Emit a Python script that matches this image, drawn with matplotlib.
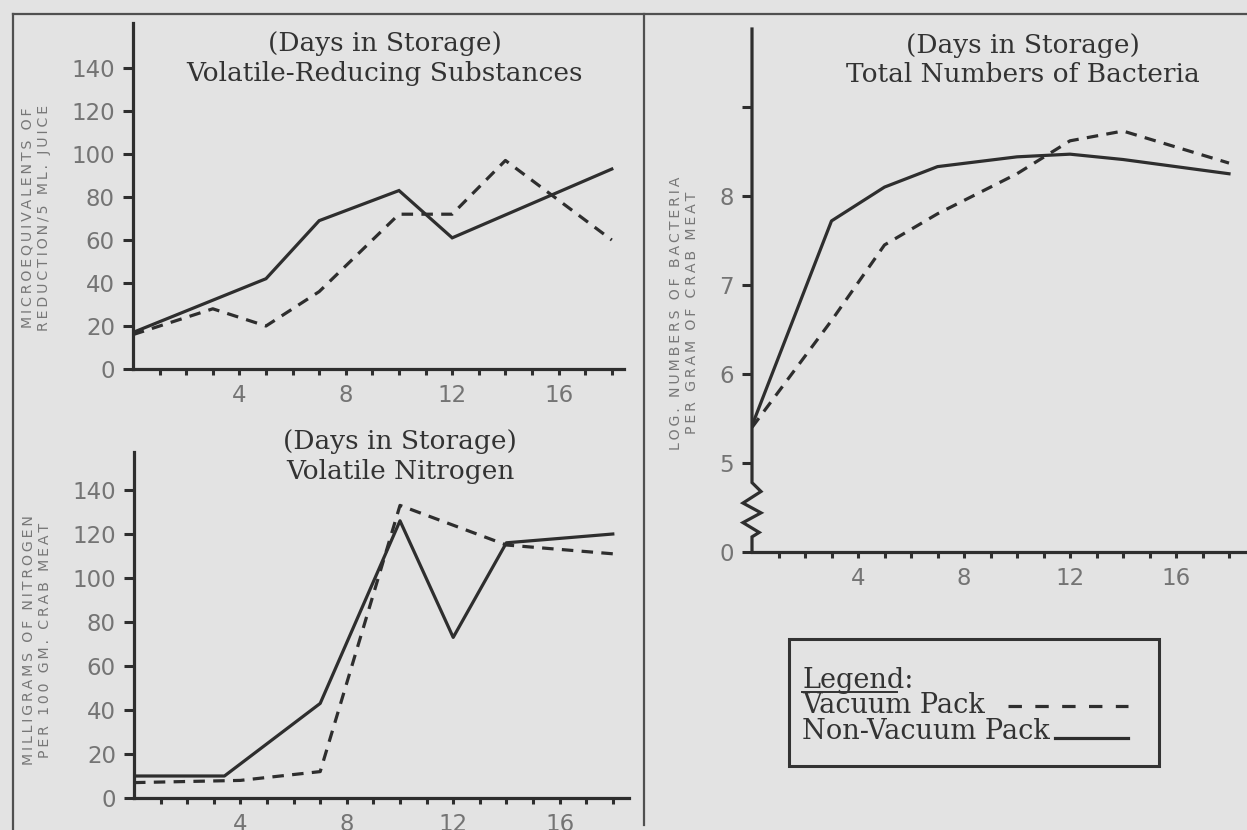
import numpy as np
import matplotlib.pyplot as plt
from matplotlib.patches import Rectangle
from matplotlib.lines import Line2D

W, H = 1247, 830
BG = '#e3e3e3'
INK = '#2e2e2e'
SOFT = '#747474'

# volatile-reducing substances (microequivalents / 5 ml juice)
vrs_days_vac = [0, 3, 5, 7, 10, 12, 14, 18]
vrs_vac = [16, 28, 20, 36, 72, 72, 97, 60]
vrs_days_non = [0, 5, 7, 10, 12, 18]
vrs_non = [17, 42, 69, 83, 61, 93]

# volatile nitrogen (mg / 100 gm crab meat)
vn_days_vac = [0, 4, 7, 10, 14, 18]
vn_vac = [7, 8, 12, 133, 115, 111]
vn_days_non = [0, 3.4, 7, 10, 12, 14, 18]
vn_non = [10, 10, 43, 126, 73, 116, 120]

# total bacteria (log numbers per gram)
bact_days = [0, 3, 5, 7, 10, 12, 14, 18]
bact_vac = [5.4, 6.6, 7.45, 7.8, 8.25, 8.62, 8.73, 8.37]
bact_non = [5.42, 7.72, 8.1, 8.33, 8.44, 8.47, 8.41, 8.25]

day_ticks = np.arange(1, 19)
day_labels = [str(d) if d % 4 == 0 else '' for d in day_ticks]

LW = 2.3
DASH = (0, (3.6, 2.6))

fig = plt.figure(figsize=(W / 100, H / 100), dpi=100, facecolor=BG)


def px_axes(left, right, top, bottom):
    ax = fig.add_axes([left / W, 1 - bottom / H, (right - left) / W, (bottom - top) / H])
    ax.set_facecolor('none')
    for s in ['top', 'right']:
        ax.spines[s].set_visible(False)
    for s in ['left', 'bottom']:
        ax.spines[s].set_linewidth(2.3)
        ax.spines[s].set_color(INK)
    ax.set_xticks(day_ticks)
    ax.set_xticklabels(day_labels)
    ax.tick_params(axis='x', direction='out', length=4, width=2.2, color=INK,
                   pad=7, labelsize=16.5, labelcolor=SOFT)
    ax.tick_params(axis='y', direction='out', length=7, width=2.2, color=INK,
                   pad=6, labelsize=16.5, labelcolor=SOFT)
    return ax


def spaced(s):
    return '\u2009'.join(s)


def ylab(x, y, lines):
    for i, line in enumerate(lines):
        fig.text(x + i * 16, H - y, spaced(line), transform=None, rotation=90,
                 ha='center', va='center', fontsize=10.2, color='#777777',
                 family='DejaVu Sans')


def title(xc, y1, lines, size=19):
    for i, line in enumerate(lines):
        fig.text(xc / W, 1 - (y1 + i * 30) / H, line, ha='center', va='center',
                 fontsize=size, color='#333333', family='DejaVu Serif')


# frame lines of the scanned page
frame = dict(color='#505050', lw=1.6, transform=None)
fig.add_artist(Line2D([12.5, W], [H - 14, H - 14], **frame))
fig.add_artist(Line2D([12.5, 12.5], [H - 14, 0], **frame))
fig.add_artist(Line2D([644, 644], [H - 14, H - 825], **frame))

# top left
ax1 = px_axes(133, 624, 23, 369)
ax1.set_xlim(0, (624 - 133) / 26.6)
ax1.set_ylim(0, (369 - 23) / 2.15)
ax1.set_yticks(np.arange(0, 141, 20))
ax1.plot(vrs_days_non, vrs_non, color=INK, lw=LW, solid_joinstyle='miter')
ax1.plot(vrs_days_vac, vrs_vac, color=INK, lw=LW, ls=DASH)
title(385, 43, ['(Days in Storage)', 'Volatile-Reducing Substances'])
ylab(28, 218, ['MICROEQUIVALENTS OF', 'REDUCTION/5 ML. JUICE'])

# bottom left
ax2 = px_axes(134, 629, 452, 798)
ax2.set_xlim(0, (629 - 134) / 26.6)
ax2.set_ylim(0, (798 - 452) / 2.2)
ax2.set_yticks(np.arange(0, 141, 20))
ax2.plot(vn_days_non, vn_non, color=INK, lw=LW)
ax2.plot(vn_days_vac, vn_vac, color=INK, lw=LW, ls=DASH)
title(400, 441, ['(Days in Storage)', 'Volatile Nitrogen'])
ylab(29, 640, ['MILLIGRAMS OF NITROGEN', 'PER 100 GM. CRAB MEAT'])

# right
ax3 = px_axes(752, 1247, 29, 552)
ax3.set_xlim(0, (1247 - 752) / 26.5)
ax3.set_ylim(4, 4 + (552 - 29) / 89)
ax3.set_yticks([4, 5, 6, 7, 8, 9])
ax3.set_yticklabels(['0', '5', '6', '7', '8', ''])
ax3.spines['left'].set_visible(False)
ax3.plot(bact_days, bact_non, color=INK, lw=LW)
ax3.plot(bact_days, bact_vac, color=INK, lw=LW, ls=DASH)
# broken axis with zigzag
amp = 9 / 26.5
zz_y = np.array([4.78, 4.68, 4.55, 4.44, 4.33, 4.22, 4.17])
zz_x = np.array([0, amp, -amp, amp, -amp, amp * 0.8, 0])
ax3.plot(np.r_[0, zz_x, 0], np.r_[ax3.get_ylim()[1], zz_y, 4],
         color=INK, lw=2.3, clip_on=False, solid_joinstyle='miter')
title(1023, 45, ['(Days in Storage)', 'Total Numbers of Bacteria'])
ylab(676, 313, ['LOG. NUMBERS OF BACTERIA', 'PER GRAM OF CRAB MEAT'])

# legend box
fig.add_artist(Rectangle((789, H - 766), 370, 127, transform=None, fill=False,
                         ec='#333333', lw=2.2))
lg = dict(transform=None, fontsize=19.5, color='#333333', family='DejaVu Serif',
          ha='left', va='center')
fig.text(802, H - 680, 'Legend:', **lg)
fig.add_artist(Line2D([802, 897], [H - 692, H - 692], color='#333333', lw=1.4,
                      transform=None))
fig.text(802, H - 705, 'Vacuum Pack', **lg)
fig.text(802, H - 731, 'Non-Vacuum Pack', **lg)
fig.add_artist(Line2D([1008, 1128], [H - 706, H - 706], color=INK, lw=LW,
                      ls=(0, (4.2, 4.2)), transform=None))
fig.add_artist(Line2D([1055, 1128], [H - 738, H - 738], color=INK, lw=LW,
                      transform=None))

fig.savefig('out.png', dpi=100, facecolor=BG)
